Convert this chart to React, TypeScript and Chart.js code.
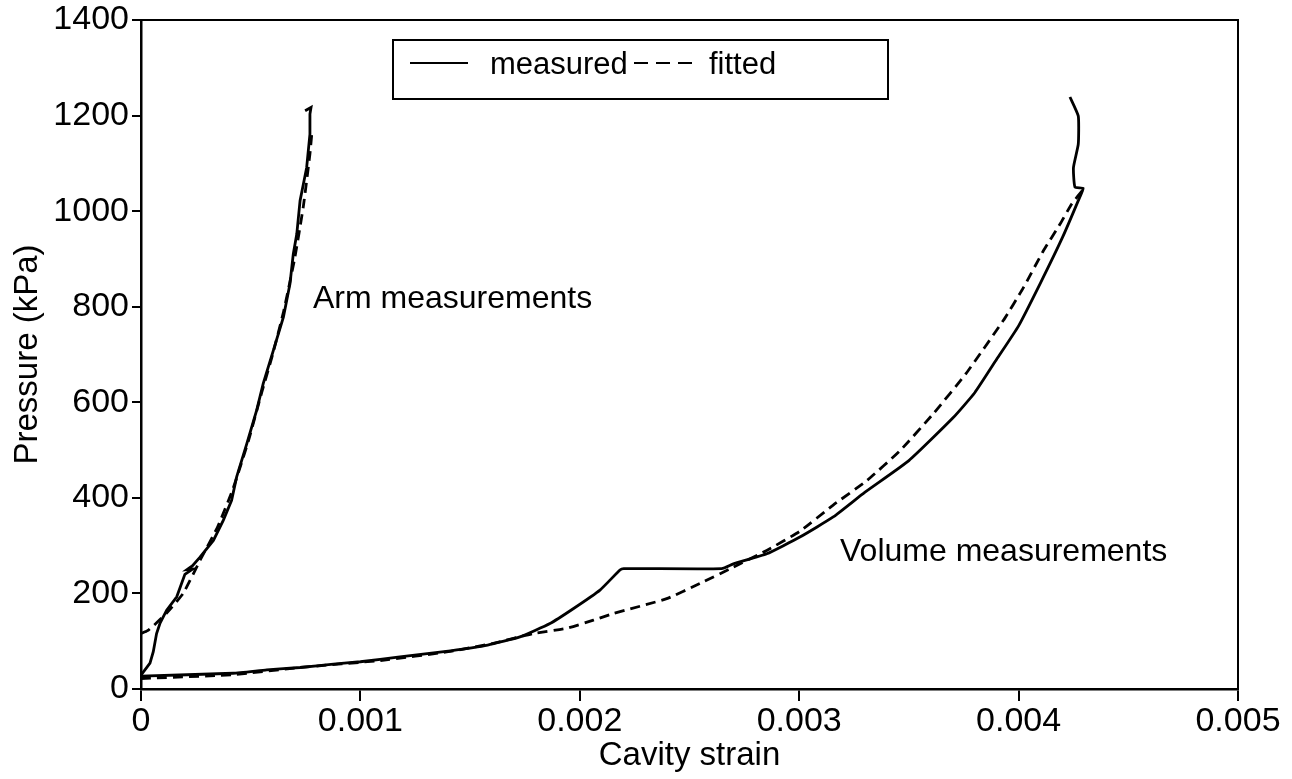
import React, { useEffect, useRef } from "react";
import { Chart, registerables } from "chart.js";

Chart.register(...registerables);

// ---- data ----
const armMeasuredStrain = [0, 0.000041, 0.000056, 0.000071, 0.000087, 0.000117, 0.000163, 0.0002, 0.000235, 0.00021, 0.000235, 0.000269, 0.00033, 0.000375, 0.000413, 0.000436, 0.000482, 0.000527, 0.000557, 0.000603, 0.000649, 0.000679, 0.000694, 0.00071, 0.000725, 0.000755, 0.00077, 0.00077, 0.000775, 0.000748];
const armMeasuredPressure = [29, 54, 78, 116, 138, 165, 193, 240, 251, 250, 258, 276, 311, 353, 395, 444, 513, 583, 639, 708, 778, 848, 910, 952, 1022, 1091, 1161, 1203, 1217, 1210];

const armFittedStrain = [0, 0.00003, 0.00007, 0.000117, 0.000192, 0.00027, 0.00035, 0.00042, 0.00049, 0.00055, 0.0006, 0.00065, 0.0007, 0.00074, 0.00077, 0.00078];
const armFittedPressure = [116, 122, 138, 159, 200, 270, 340, 420, 520, 620, 700, 790, 900, 1010, 1120, 1170];

const volMeasuredStrain = [0, 0.00042, 0.000573, 0.000725, 0.000877, 0.001, 0.00118, 0.00141, 0.00158, 0.001727, 0.001864, 0.00197, 0.002092, 0.002183, 0.0022, 0.002647, 0.0027, 0.002852, 0.003003, 0.003155, 0.0033, 0.0035, 0.0037, 0.0038, 0.0039, 0.004, 0.0041, 0.0042, 0.004272, 0.004294, 0.004257, 0.00425, 0.004272, 0.004272, 0.004234];
const volMeasuredPressure = [27, 33, 40, 45, 52, 57, 67, 80, 92, 109, 137, 168, 207, 249, 252, 252, 262, 283, 318, 360, 412, 478, 567, 620, 690, 760, 850, 945, 1022, 1048, 1050, 1091, 1140, 1199, 1239];

const volFittedStrain = [0, 0.00042, 0.000725, 0.0011, 0.0014, 0.0016, 0.001788, 0.00194, 0.002062, 0.002153, 0.002396, 0.002548, 0.0027, 0.002852, 0.003003, 0.003155, 0.003308, 0.00346, 0.003611, 0.00376, 0.00393, 0.004022, 0.004113, 0.004189, 0.004242, 0.004294];
const volFittedPressure = [22, 30, 45, 60, 78, 95, 116, 127, 144, 158, 189, 221, 255, 290, 330, 385, 436, 499, 576, 660, 771, 840, 917, 973, 1015, 1045];

const xTickValues = [0, 0.001, 0.002, 0.003, 0.004, 0.005];
const yTickValues = [0, 200, 400, 600, 800, 1000, 1200, 1400];

const annotationTexts = ["Arm measurements", "Volume measurements"];
const annotationStrain = [0.000784, 0.003186];
const annotationPressure = [798, 267];

const legendLabels = ["measured", "fitted"];

const FONT = "'Liberation Sans', Arial, Helvetica, sans-serif";

const toPoints = (xs: number[], ys: number[]) => xs.map((x, i) => ({ x, y: ys[i] }));

const framePlugin = {
  id: "frameAndLabels",
  afterDraw(chart: any) {
    const { ctx, chartArea: a, scales } = chart;
    ctx.save();
    ctx.strokeStyle = "#000";
    ctx.lineWidth = 2;
    ctx.beginPath();
    ctx.moveTo(a.left, a.top);
    ctx.lineTo(a.right, a.top);
    ctx.lineTo(a.right, a.bottom);
    ctx.stroke();

    // annotations in data coordinates
    ctx.fillStyle = "#000";
    ctx.font = `32px ${FONT}`;
    ctx.textAlign = "left";
    ctx.textBaseline = "alphabetic";
    annotationTexts.forEach((t, i) => {
      ctx.fillText(t, scales.x.getPixelForValue(annotationStrain[i]), scales.y.getPixelForValue(annotationPressure[i]));
    });

    // legend box
    const bx = a.left + 252;
    const by = a.top + 20;
    const bw = 495;
    const bh = 59;
    ctx.lineWidth = 2;
    ctx.strokeRect(bx, by, bw, bh);
    ctx.font = `31px ${FONT}`;
    const ly = by + 23;
    const ty = by + 34;
    ctx.beginPath();
    ctx.moveTo(bx + 17, ly);
    ctx.lineTo(bx + 75, ly);
    ctx.stroke();
    ctx.fillText(legendLabels[0], bx + 97, ty);
    ctx.setLineDash([14, 8]);
    ctx.beginPath();
    ctx.moveTo(bx + 241, ly);
    ctx.lineTo(bx + 305, ly);
    ctx.stroke();
    ctx.setLineDash([]);
    ctx.fillText(legendLabels[1], bx + 316, ty);
    ctx.restore();
  },
};

export default function App() {
  const canvasRef = useRef<HTMLCanvasElement | null>(null);

  useEffect(() => {
    document.body.style.margin = "0";
    const canvas = canvasRef.current;
    if (!canvas) return;
    const measuredStyle = { borderColor: "#000", borderWidth: 2.8, pointRadius: 0, showLine: true, tension: 0.15, fill: false };
    const fittedStyle = { ...measuredStyle, borderDash: [10, 6] };
    const chart = new Chart(canvas, {
      type: "scatter",
      data: {
        datasets: [
          { label: "Arm measured", data: toPoints(armMeasuredStrain, armMeasuredPressure), ...measuredStyle, tension: 0 },
          { label: "Arm fitted", data: toPoints(armFittedStrain, armFittedPressure), ...fittedStyle },
          { label: "Volume measured", data: toPoints(volMeasuredStrain, volMeasuredPressure), ...measuredStyle },
          { label: "Volume fitted", data: toPoints(volFittedStrain, volFittedPressure), ...fittedStyle },
        ],
      },
      options: {
        animation: false,
        responsive: false,
        maintainAspectRatio: false,
        layout: { padding: { top: 19, right: 54, left: 0, bottom: 0 } },
        plugins: { legend: { display: false }, tooltip: { enabled: false } },
        scales: {
          x: {
            type: "linear",
            min: 0,
            max: 0.005,
            afterBuildTicks: (s: any) => { s.ticks = xTickValues.map((v) => ({ value: v })); },
            afterFit: (s: any) => { s.height = 90; },
            ticks: {
              color: "#000",
              font: { family: FONT, size: 34 },
              padding: 0,
              maxRotation: 0,
              autoSkip: false,
              callback: (v: any) => (Number(v) === 0 ? "0" : Number(v).toFixed(3)),
            },
            grid: { display: true, drawOnChartArea: false, drawTicks: true, tickLength: 12, color: "#000", lineWidth: 2 },
            border: { display: true, color: "#000", width: 2.5 },
            title: { display: true, text: "Cavity strain", color: "#000", font: { family: FONT, size: 33 }, padding: { top: 0, bottom: 3 } },
          },
          y: {
            type: "linear",
            min: 0,
            max: 1400,
            afterBuildTicks: (s: any) => { s.ticks = yTickValues.map((v) => ({ value: v })); },
            afterFit: (s: any) => { s.width = 141; },
            ticks: {
              color: "#000",
              font: { family: FONT, size: 34, lineHeight: 1.0 },
              padding: 3,
              autoSkip: false,
              callback: (v: any) => String(v),
            },
            grid: { display: true, drawOnChartArea: false, drawTicks: true, tickLength: 9, color: "#000", lineWidth: 2 },
            border: { display: true, color: "#000", width: 2.5 },
            title: { display: true, text: "Pressure (kPa)", color: "#000", font: { family: FONT, size: 33 }, padding: { top: 8, bottom: 0 } },
          },
        },
      },
      plugins: [framePlugin],
    } as any);
    return () => chart.destroy();
  }, []);

  return (
    <div style={{ width: 1292, height: 779, background: "#fff" }}>
      <canvas ref={canvasRef} width={1292} height={779} style={{ display: "block" }} />
    </div>
  );
}
